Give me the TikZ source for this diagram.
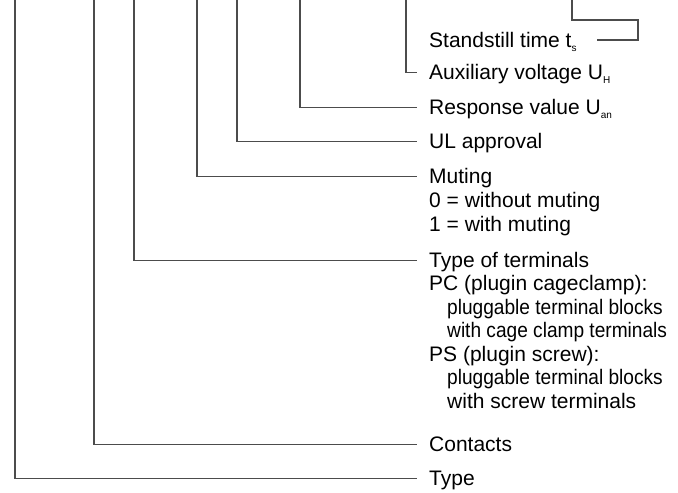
\documentclass[tikz,border=0pt]{standalone}
\usepackage{fontspec}
\setmainfont{Liberation Sans}
\newfontfamily\narrowsf[FakeStretch=0.91]{Liberation Sans}
\newcommand{\lowsub}[1]{\raisebox{-4.5pt}{\fontsize{10}{10}\selectfont #1}}

\begin{document}
\begin{tikzpicture}[x=1pt,y=-1pt,
  lbl/.style={anchor=base west,inner sep=0pt,font=\fontsize{21}{24}\selectfont},
  lead/.style={line width=1.2pt,draw=black!70}]
\useasboundingbox (0,0) rectangle (678,493);
% text lines: x / baseline / name / text
\foreach \x/\y/\nm/\txt in {
  429/47/stand/{Standstill time t\lowsub{s}},
  429/79/aux/{Auxiliary voltage U\lowsub{H}},
  429/114/resp/{Response value U\lowsub{an}},
  429/148/ul/{UL approval},
  429/183/mute/{Muting},
  429/207/muteA/{0 = without muting},
  429/231/muteB/{1 = with muting},
  429/267/term/{Type of terminals},
  429/290.5/pc/{PC (plugin cageclamp):},
  447/314/pcA/{\narrowsf pluggable terminal blocks},
  447/337.5/pcB/{\narrowsf with cage clamp terminals},
  429/361/ps/{PS (plugin screw):},
  447/384.5/psA/{\narrowsf pluggable terminal blocks},
  447/408/psB/{with screw terminals},
  429/451/cont/{Contacts},
  429/485/type/{Type}}
  \node[lbl] (\nm) at (\x,\y) {\txt};
% leaders from the code positions
\foreach \x/\nm in {15/type,94/cont,134/term,197/mute,237/ul,300/resp,406/aux}{
  \coordinate (top\nm) at (\x,0);
  \draw[lead] (top\nm) |- ([xshift=-12pt,yshift=6.5pt]\nm.base west);
}
\coordinate (topstand) at (572,0);
\draw[lead] (topstand) |- (638,20) |- ([xshift=20pt,yshift=7pt]stand.base east);
\end{tikzpicture}
\end{document}
